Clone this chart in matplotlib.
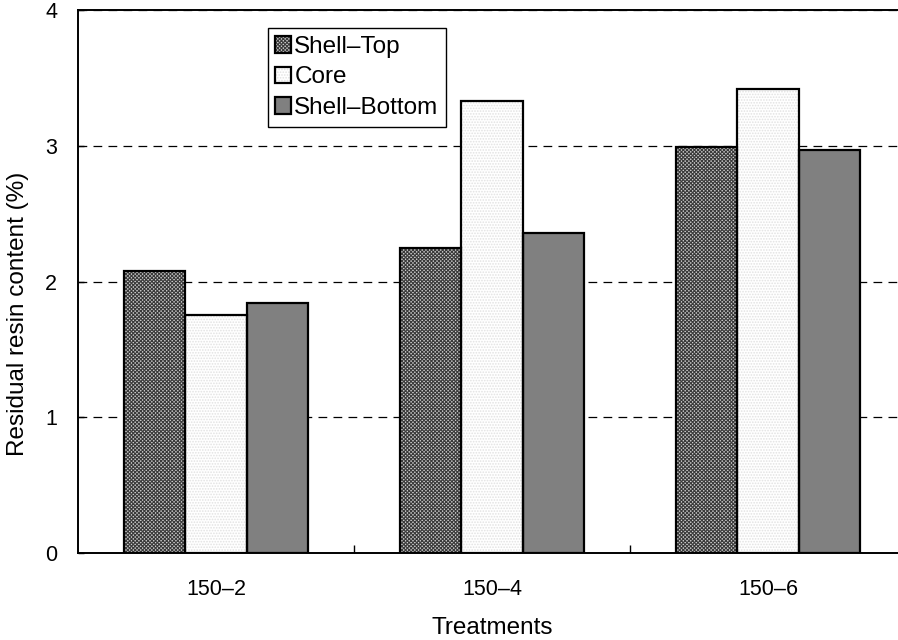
import numpy as np
import matplotlib
matplotlib.use("Agg")
import matplotlib.pyplot as plt
from matplotlib.legend_handler import HandlerTuple

plt.rcParams['font.family'] = ['Liberation Sans', 'DejaVu Sans']
plt.rcParams['hatch.linewidth'] = 0.8

treatments = ["150\u20132", "150\u20134", "150\u20136"]
series = ["Shell\u2013Top", "Core", "Shell\u2013Bottom"]
shell_top = [2.08, 2.25, 2.99]
core = [1.75, 3.33, 3.42]
shell_bottom = [1.84, 2.36, 2.97]
y_ticks = [0, 1, 2, 3, 4]

# fill colour, hatch pattern, hatch colour for each series
styles = [
    ("#cdcdcd", "x" * 9, "#3a3a3a"),
    ("#ffffff", "." * 6, "#e2e2e2"),
    ("#808080", None, "#808080"),
]

fig = plt.figure(figsize=(8.98, 6.40), dpi=100)
ax = fig.add_axes([0.0869, 0.1359, 0.922, 0.8485])

x = np.arange(len(treatments))
w = 0.222
handles = []
for k, (vals, (fc, hatch, hc)) in enumerate(zip([shell_top, core, shell_bottom], styles)):
    pos = x + (k - 1) * w
    fill = ax.bar(pos, vals, w, color=fc, hatch=hatch, edgecolor=hc,
                  linewidth=0, zorder=2)
    border = ax.bar(pos, vals, w, fill=False, edgecolor="black",
                    linewidth=1.6, zorder=3)
    handles.append((fill.patches[0], border.patches[0]))

ax.set_xlim(-0.5, 2.5)
ax.set_ylim(0, 4)
ax.set_yticks(y_ticks)
ax.set_xticks(x)
ax.set_xticklabels(treatments)
ax.set_xticks([0.5, 1.5, 2.5], minor=True)
ax.tick_params(axis="x", which="major", length=0, pad=19, labelsize=15.5)
ax.tick_params(axis="x", which="minor", direction="in", length=6, width=1)
ax.tick_params(axis="y", direction="in", length=4, width=1, pad=15, labelsize=15.5)
ax.yaxis.grid(True, linestyle=(0, (7, 5)), color="black", linewidth=0.9, zorder=1)
ax.set_axisbelow(True)
for s in ax.spines.values():
    s.set_linewidth(1.4)

ax.set_ylabel("Residual resin content (%)", fontsize=17.5)
ax.yaxis.set_label_coords(-0.059, 0.44)
ax.set_xlabel("Treatments", fontsize=17.5)
ax.xaxis.set_label_coords(0.5, -0.118)

leg = ax.legend(handles, series, handler_map={tuple: HandlerTuple(ndivide=1)},
                loc="upper left", bbox_to_anchor=(0.229, 0.966),
                fontsize=17.5, frameon=True, fancybox=False,
                edgecolor="black", framealpha=1, borderpad=0.3,
                handlelength=0.68, handleheight=0.68, handletextpad=0.12,
                labelspacing=0.36, borderaxespad=0)
leg.get_frame().set_linewidth(1.0)

fig.savefig("out.png", dpi=100)
